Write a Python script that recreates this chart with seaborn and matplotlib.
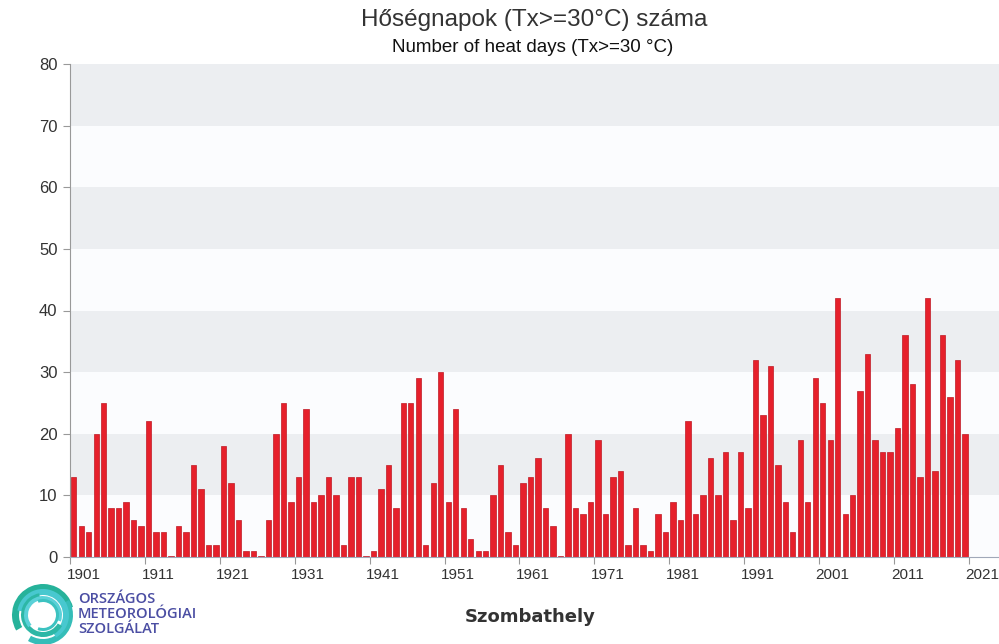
import matplotlib
matplotlib.use("Agg")
import matplotlib.pyplot as plt
from matplotlib.patches import Wedge
import seaborn as sns
import pandas as pd
import numpy as np

years = list(range(1901, 2021))
heat_days = [
    13, 5, 4, 20, 25, 8, 8, 9, 6, 5,        # 1901-1910
    22, 4, 4, 0.2, 5, 4, 15, 11, 2, 2,      # 1911-1920
    18, 12, 6, 1, 1, 0.2, 6, 20, 25, 9,     # 1921-1930
    13, 24, 9, 10, 13, 10, 2, 13, 13, 0.2,  # 1931-1940
    1, 11, 15, 8, 25, 25, 29, 2, 12, 30,    # 1941-1950
    9, 24, 8, 3, 1, 1, 10, 15, 4, 2,        # 1951-1960
    12, 13, 16, 8, 5, 0.2, 20, 8, 7, 9,     # 1961-1970
    19, 7, 13, 14, 2, 8, 2, 1, 7, 4,        # 1971-1980
    9, 6, 22, 7, 10, 16, 10, 17, 6, 17,     # 1981-1990
    8, 32, 23, 31, 15, 9, 4, 19, 9, 29,     # 1991-2000
    25, 19, 42, 7, 10, 27, 33, 19, 17, 17,  # 2001-2010
    21, 36, 28, 13, 42, 14, 36, 26, 32, 20, # 2011-2020
]
tick_years = list(range(1901, 2022, 10))
y_ticks = list(range(0, 81, 10))

title = "Hőségnapok (Tx>=30°C) száma"
subtitle = "Number of heat days (Tx>=30 °C)"
station = "Szombathely"
logo_lines = ["ORSZÁGOS", "METEOROLÓGIAI", "SZOLGÁLAT"]

df = pd.DataFrame({"year": [str(y) for y in years], "days": heat_days})

sns.set_theme(style="white")
plt.rcParams["font.family"] = ["Liberation Sans", "DejaVu Sans"]

W, H = 999, 644
fig = plt.figure(figsize=(W / 100, H / 100), dpi=100)
fig.patch.set_facecolor("white")
ax = fig.add_axes([70 / W, (H - 557) / H, (W - 70) / W, (557 - 64) / H])

# alternating bands
band_colors = ["#fbfcfe", "#eceef1"]
for i, lo in enumerate(y_ticks[:-1]):
    ax.axhspan(lo, lo + 10, color=band_colors[i % 2], zorder=0, lw=0)

sns.barplot(data=df, x="year", y="days", color="#e6202b", saturation=1,
            width=0.72, edgecolor="#bf1a24", linewidth=0.5, ax=ax, zorder=2)

ax.set_xlim(-0.5, (W - 70) / 7.49 - 0.5)
ax.set_ylim(0, 80)
ax.set_xlabel("")
ax.set_ylabel("")

# ticks
major_pos = [(y - years[0]) - 0.5 for y in tick_years]
ax.set_xticks(major_pos)
ax.set_xticklabels([])
ax.set_xticks([p + 1.8 for p in major_pos], minor=True)
ax.set_xticklabels([str(y) for y in tick_years], minor=True, fontsize=11, color="#333333")
ax.tick_params(axis="x", which="major", length=5, width=0.8, color="#999999", direction="out", bottom=True)
ax.tick_params(axis="x", which="minor", length=0, pad=8)
ax.set_yticks(y_ticks)
ax.set_yticklabels([str(v) for v in y_ticks], fontsize=12, color="#333333")
ax.tick_params(axis="y", length=5, width=0.8, color="#999999", direction="out", left=True, pad=4)

for s in ["top", "right"]:
    ax.spines[s].set_visible(False)
ax.spines["left"].set_color("#999999")
ax.spines["left"].set_linewidth(0.8)
ax.spines["bottom"].set_color("#a0a8b8")
ax.spines["bottom"].set_linewidth(0.8)

# overlay for texts and logo (pixel coordinates)
ov = fig.add_axes([0, 0, 1, 1], facecolor="none")
ov.set_xlim(0, W)
ov.set_ylim(H, 0)
ov.axis("off")

ov.text(534, 20, title, ha="center", va="center", fontsize=17.5, color="#333333")
ov.text(533, 47, subtitle, ha="center", va="center", fontsize=13.5, color="#111111")
ov.text(530, 617, station, ha="center", va="center", fontsize=13, fontweight="bold",
        color="#333333", family=["DejaVu Sans"])

# logo swirl
cx, cy = 43, 615
swirl = [
    (31, 150, 345, 7, "#26b29a"),
    (30, 330, 480, 6, "#35bdb8"),
    (26, 190, 420, 6, "#48c8cf"),
    (22, 30, 260, 5, "#2db7a6"),
    (19, 140, 380, 4, "#5ad1d8"),
    (16, 250, 470, 3, "#3cc2c0"),
]
for r, t1, t2, w, c in swirl:
    ov.add_patch(Wedge((cx, cy), r, t1, t2, width=w, color=c, lw=0))

for i, line in enumerate(logo_lines):
    ov.text(78, 599 + i * 15, line, ha="left", va="center", fontsize=10.5,
            fontweight="semibold", color="#4b4ea3", family=["Open Sans", "DejaVu Sans"])

fig.savefig("out.png", dpi=100)
